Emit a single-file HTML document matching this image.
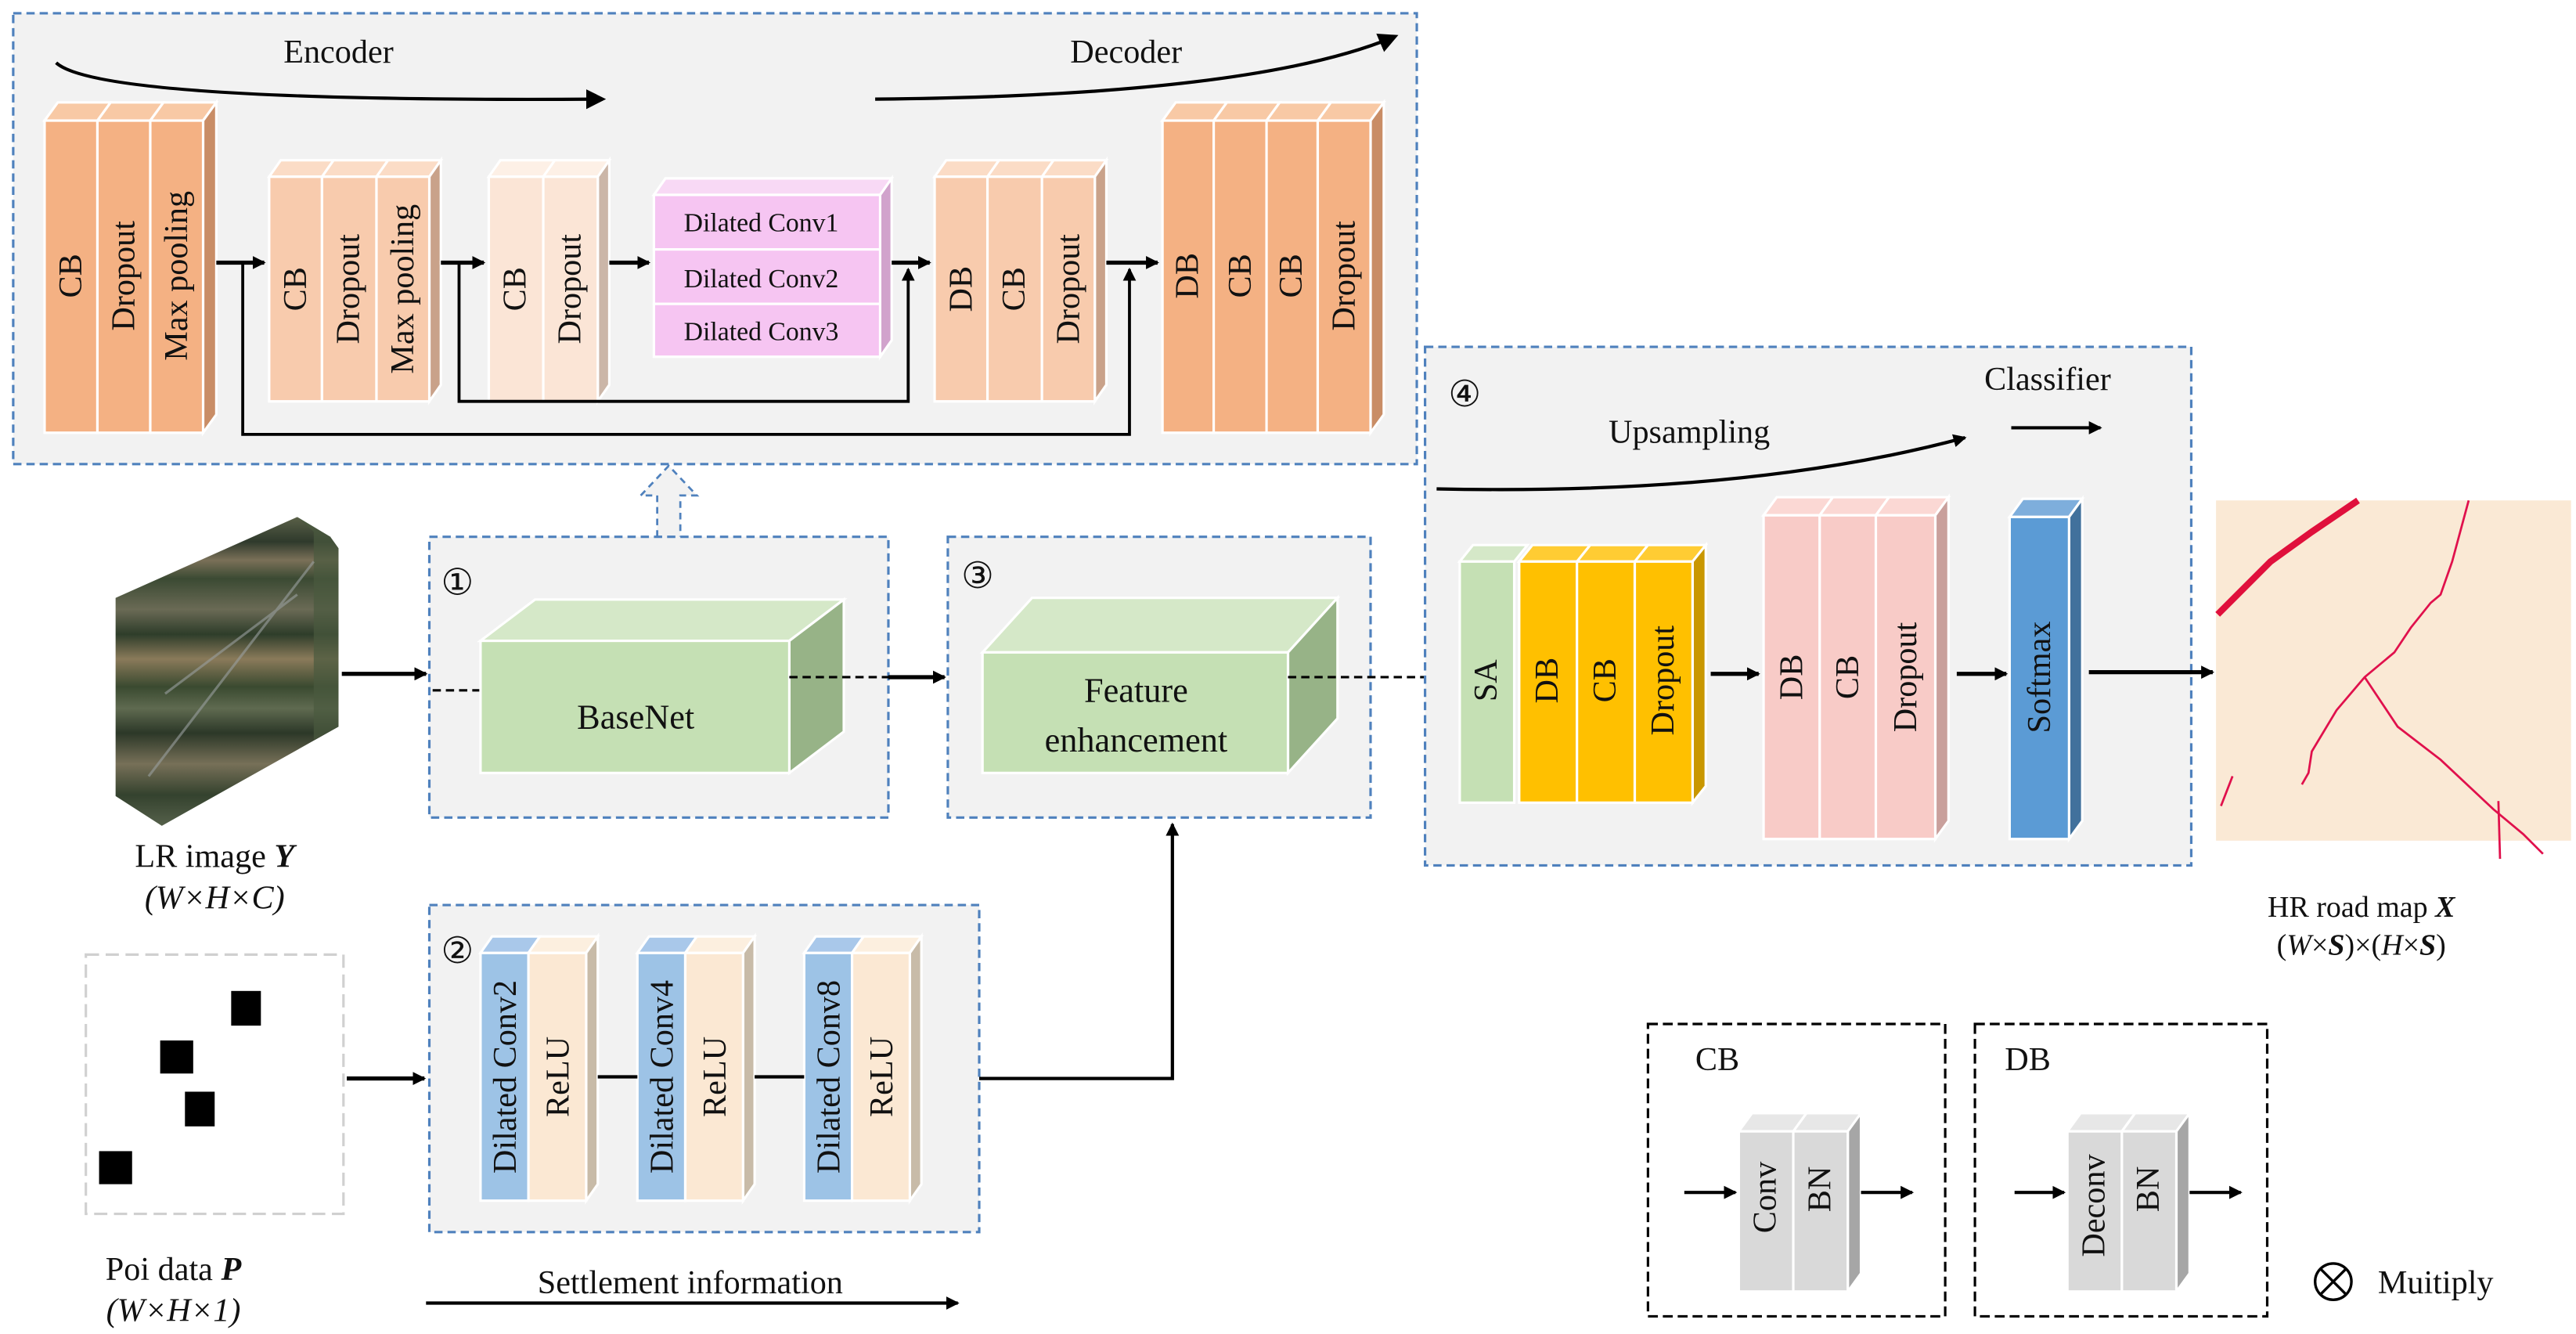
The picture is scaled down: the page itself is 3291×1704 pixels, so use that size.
<!DOCTYPE html>
<html><head><meta charset="utf-8"><style>html,body{margin:0;padding:0;background:#fff}svg{display:block}svg text{font-family:'Liberation Serif','DejaVu Serif',serif;fill:#111}</style></head><body>
<svg width="3291" height="1704" viewBox="0 0 1560 807.7" xmlns="http://www.w3.org/2000/svg" font-family="'Liberation Serif', 'DejaVu Serif', serif">
<defs>
<marker id="ah" markerWidth="8" markerHeight="8" refX="7" refY="4" orient="auto" markerUnits="userSpaceOnUse"><path d="M0,0 L8,4 L0,8 z" fill="#000"/></marker>
<marker id="ah2" markerWidth="12" markerHeight="12" refX="10" refY="6" orient="auto" markerUnits="userSpaceOnUse"><path d="M0,0 L12,6 L0,12 z" fill="#000"/></marker>
<linearGradient id="sat" x1="0" y1="0" x2="0" y2="1">
<stop offset="0" stop-color="#5a6048"/><stop offset="0.08" stop-color="#2f3a2c"/><stop offset="0.14" stop-color="#7a7058"/><stop offset="0.2" stop-color="#3b4a33"/><stop offset="0.3" stop-color="#6a6a55"/><stop offset="0.38" stop-color="#2e3d2a"/><stop offset="0.46" stop-color="#8a7a5a"/><stop offset="0.55" stop-color="#3a4a30"/><stop offset="0.62" stop-color="#5f6a50"/><stop offset="0.7" stop-color="#2c3828"/><stop offset="0.8" stop-color="#777058"/><stop offset="0.9" stop-color="#34422e"/><stop offset="1" stop-color="#55604a"/></linearGradient>
</defs>
<g font-size="20">
<rect x="8" y="8" width="850" height="273" fill="#f2f2f2" stroke="#4f81bd" stroke-width="1.5" stroke-dasharray="5,3"/>
<text x="205" y="38" text-anchor="middle">Encoder</text>
<text x="682" y="38" text-anchor="middle">Decoder</text>
<path d="M34,38 Q60,62 365,60" fill="none" stroke="#000" stroke-width="2" marker-end="url(#ah2)"/>
<path d="M530,60 Q760,58 845,22" fill="none" stroke="#000" stroke-width="2" marker-end="url(#ah2)"/>

<g stroke="#fff" stroke-width="1.5">
<polygon points="27,73 35,62 67,62 59,73" fill="#f8c9a5"/><polygon points="59,73 67,62 99,62 91,73" fill="#f8c9a5"/><polygon points="91,73 99,62 131,62 123,73" fill="#f8c9a5"/>
<polygon points="123,73 131,62 131,251 123,262" fill="#c98d66"/>
<rect x="27" y="73" width="32" height="189" fill="#f4b183"/><rect x="59" y="73" width="32" height="189" fill="#f4b183"/><rect x="91" y="73" width="32" height="189" fill="#f4b183"/>
</g>
<g stroke="#fff" stroke-width="1.5">
<polygon points="163,107 170,97 202,97 195,107" fill="#fbdcc6"/><polygon points="195,107 202,97 235,97 228,107" fill="#fbdcc6"/><polygon points="228,107 235,97 267,97 260,107" fill="#fbdcc6"/>
<polygon points="260,107 267,97 267,233 260,243" fill="#c9a28a"/>
<rect x="163" y="107" width="32" height="136" fill="#f8cbad"/><rect x="195" y="107" width="33" height="136" fill="#f8cbad"/><rect x="228" y="107" width="32" height="136" fill="#f8cbad"/>
</g>
<g stroke="#fff" stroke-width="1.5">
<polygon points="296,107 303,97 336,97 329,107" fill="#fdf0e6"/><polygon points="329,107 336,97 369,97 362,107" fill="#fdf0e6"/>
<polygon points="362,107 369,97 369,233 362,243" fill="#cbb6a8"/>
<rect x="296" y="107" width="33" height="136" fill="#fbe5d6"/><rect x="329" y="107" width="33" height="136" fill="#fbe5d6"/>
</g>
<g stroke="#fff" stroke-width="1.5">
<polygon points="396,118 403,108 540,108 533,118" fill="#f8d9f5"/>
<polygon points="533,118 540,108 540,206 533,216" fill="#d1a3cc"/>
<rect x="396" y="118" width="137" height="33" fill="#f6c5f2"/><rect x="396" y="151" width="137" height="33" fill="#f6c5f2"/><rect x="396" y="184" width="137" height="32" fill="#f6c5f2"/>
</g>
<g stroke="#fff" stroke-width="1.5">
<polygon points="566,107 573,97 605,97 598,107" fill="#fbdcc6"/><polygon points="598,107 605,97 638,97 631,107" fill="#fbdcc6"/><polygon points="631,107 638,97 670,97 663,107" fill="#fbdcc6"/>
<polygon points="663,107 670,97 670,233 663,243" fill="#c9a28a"/>
<rect x="566" y="107" width="32" height="136" fill="#f8cbad"/><rect x="598" y="107" width="33" height="136" fill="#f8cbad"/><rect x="631" y="107" width="32" height="136" fill="#f8cbad"/>
</g>
<g stroke="#fff" stroke-width="1.5">
<polygon points="704,73 712,62 743,62 735,73" fill="#f8c9a5"/><polygon points="735,73 743,62 775,62 767,73" fill="#f8c9a5"/><polygon points="767,73 775,62 806,62 798,73" fill="#f8c9a5"/><polygon points="798,73 806,62 838,62 830,73" fill="#f8c9a5"/>
<polygon points="830,73 838,62 838,251 830,262" fill="#c98d66"/>
<rect x="704" y="73" width="31" height="189" fill="#f4b183"/><rect x="735" y="73" width="32" height="189" fill="#f4b183"/><rect x="767" y="73" width="31" height="189" fill="#f4b183"/><rect x="798" y="73" width="32" height="189" fill="#f4b183"/>
</g>
<g text-anchor="middle" dominant-baseline="central">
<text transform="translate(43,167) rotate(-90)">CB</text>
<text transform="translate(75,167) rotate(-90)">Dropout</text>
<text transform="translate(107,167) rotate(-90)">Max pooling</text>
<text transform="translate(179,175) rotate(-90)">CB</text>
<text transform="translate(211,175) rotate(-90)">Dropout</text>
<text transform="translate(244,175) rotate(-90)">Max pooling</text>
<text transform="translate(312,175) rotate(-90)">CB</text>
<text transform="translate(345,175) rotate(-90)">Dropout</text>
<text transform="translate(582,175) rotate(-90)">DB</text>
<text transform="translate(614,175) rotate(-90)">CB</text>
<text transform="translate(647,175) rotate(-90)">Dropout</text>
<text transform="translate(719,167) rotate(-90)">DB</text>
<text transform="translate(751,167) rotate(-90)">CB</text>
<text transform="translate(782,167) rotate(-90)">CB</text>
<text transform="translate(814,167) rotate(-90)">Dropout</text>
</g>
<g font-size="16" text-anchor="middle"><text x="461" y="140">Dilated Conv1</text><text x="461" y="174">Dilated Conv2</text><text x="461" y="206">Dilated Conv3</text></g>
<g stroke="#000" stroke-width="2.5" fill="none">
<line x1="131" y1="159" x2="160" y2="159" marker-end="url(#ah)"/>
<line x1="267" y1="159" x2="293" y2="159" marker-end="url(#ah)"/>
<line x1="369" y1="159" x2="393" y2="159" marker-end="url(#ah)"/>
<line x1="540" y1="159" x2="563" y2="159" marker-end="url(#ah)"/>
<line x1="670" y1="159" x2="701" y2="159" marker-end="url(#ah)"/>
</g>
<g stroke="#000" stroke-width="1.8" fill="none">
<polyline points="147,159 147,263 684,263 684,163" marker-end="url(#ah)"/>
<polyline points="278,159 278,243 550,243 550,163" marker-end="url(#ah)"/>
</g>
<path d="M398,325 L398,300 L388,300 L405,282 L422,300 L412,300 L412,325" fill="#f2f2f2" stroke="#4f81bd" stroke-width="1.3" stroke-dasharray="4,3"/>

<polygon points="70,362 180,313 200,325 205,332 205,440 98,500 70,482" fill="url(#sat)"/>
<polygon points="180,313 200,325 205,332 205,440 190,448 190,322" fill="#4a5a3e" opacity="0.7"/>
<path d="M90,470 L190,340 M100,420 L180,360" stroke="#9aa0a0" stroke-width="1.5" opacity="0.6"/>
<text x="130" y="525" text-anchor="middle">LR image <tspan font-weight="bold" font-style="italic">Y</tspan></text>
<text x="130" y="550" text-anchor="middle" font-style="italic">(W×H×C)</text>
<line x1="207" y1="408" x2="258" y2="408" stroke="#000" stroke-width="2.5" marker-end="url(#ah)"/>

<rect x="260" y="325" width="278" height="170" fill="#f2f2f2" stroke="#4f81bd" stroke-width="1.5" stroke-dasharray="5,3"/>
<text x="277" y="360" text-anchor="middle" font-size="22">①</text>
<line x1="262" y1="418" x2="291" y2="418" stroke="#000" stroke-width="1.5" stroke-dasharray="5,3"/>
<g stroke="#fff" stroke-width="1.5">
<polygon points="291,388 324,363 511,363 478,388" fill="#d5e8c8"/>
<polygon points="478,388 511,363 511,443 478,468" fill="#97b387"/>
<rect x="291" y="388" width="187" height="80" fill="#c5e0b4"/>
</g>
<text x="385" y="441" text-anchor="middle" font-size="21">BaseNet</text>
<line x1="478" y1="410" x2="540" y2="410" stroke="#000" stroke-width="1.5" stroke-dasharray="5,3"/>
<line x1="538" y1="410" x2="572" y2="410" stroke="#000" stroke-width="2.5" marker-end="url(#ah)"/>

<rect x="574" y="325" width="256" height="170" fill="#f2f2f2" stroke="#4f81bd" stroke-width="1.5" stroke-dasharray="5,3"/>
<text x="592" y="356" text-anchor="middle" font-size="22">③</text>
<g stroke="#fff" stroke-width="1.5">
<polygon points="595,395 625,362 810,362 780,395" fill="#d5e8c8"/>
<polygon points="780,395 810,362 810,435 780,468" fill="#97b387"/>
<rect x="595" y="395" width="185" height="73" fill="#c5e0b4"/>
</g>
<text x="688" y="425" text-anchor="middle" font-size="21">Feature</text>
<text x="688" y="455" text-anchor="middle" font-size="21">enhancement</text>
<line x1="780" y1="410" x2="863" y2="410" stroke="#000" stroke-width="1.5" stroke-dasharray="5,3"/>

<rect x="863" y="210" width="464" height="314" fill="#f2f2f2" stroke="#4f81bd" stroke-width="1.5" stroke-dasharray="5,3"/>
<text x="887" y="246" text-anchor="middle" font-size="22">④</text>
<text x="1240" y="236" text-anchor="middle">Classifier</text>
<line x1="1218" y1="259" x2="1272" y2="259" stroke="#000" stroke-width="2" marker-end="url(#ah)"/>
<text x="1023" y="268" text-anchor="middle">Upsampling</text>
<path d="M870,296 Q1060,300 1190,265" fill="none" stroke="#000" stroke-width="2" marker-end="url(#ah)"/>
<g stroke="#fff" stroke-width="1.5">
<polygon points="884,340 892,330 925,330 917,340" fill="#d5e8c8"/>
<rect x="884" y="340" width="33" height="146" fill="#c5e0b4"/>
<polygon points="920,340 928,330 963,330 955,340" fill="#ffcc33"/><polygon points="955,340 963,330 998,330 990,340" fill="#ffcc33"/><polygon points="990,340 998,330 1033,330 1025,340" fill="#ffcc33"/>
<polygon points="1025,340 1033,330 1033,476 1025,486" fill="#c99700"/>
<rect x="920" y="340" width="35" height="146" fill="#ffc000"/><rect x="955" y="340" width="35" height="146" fill="#ffc000"/><rect x="990" y="340" width="35" height="146" fill="#ffc000"/>
</g>
<g stroke="#fff" stroke-width="1.5">
<polygon points="1068,312 1076,301 1110,301 1102,312" fill="#fbd8d4"/><polygon points="1102,312 1110,301 1144,301 1136,312" fill="#fbd8d4"/><polygon points="1136,312 1144,301 1180,301 1172,312" fill="#fbd8d4"/>
<polygon points="1172,312 1180,301 1180,497 1172,508" fill="#c9a09c"/>
<rect x="1068" y="312" width="34" height="196" fill="#f8cbc7"/><rect x="1102" y="312" width="34" height="196" fill="#f8cbc7"/><rect x="1136" y="312" width="36" height="196" fill="#f8cbc7"/>
</g>
<g stroke="#fff" stroke-width="1.5">
<polygon points="1217,313 1225,302 1261,302 1253,313" fill="#7eaedc"/>
<polygon points="1253,313 1261,302 1261,497 1253,508" fill="#41719c"/>
<rect x="1217" y="313" width="36" height="195" fill="#5b9bd5"/>
</g>
<g text-anchor="middle" dominant-baseline="central">
<text transform="translate(900,412) rotate(-90)">SA</text>
<text transform="translate(937,412) rotate(-90)">DB</text>
<text transform="translate(972,412) rotate(-90)">CB</text>
<text transform="translate(1007,412) rotate(-90)">Dropout</text>
<text transform="translate(1085,410) rotate(-90)">DB</text>
<text transform="translate(1119,410) rotate(-90)">CB</text>
<text transform="translate(1154,410) rotate(-90)">Dropout</text>
<text transform="translate(1235,410) rotate(-90)">Softmax</text>
</g>
<g stroke="#000" stroke-width="2.5">
<line x1="1036" y1="408" x2="1065" y2="408" marker-end="url(#ah)"/>
<line x1="1185" y1="408" x2="1215" y2="408" marker-end="url(#ah)"/>
<line x1="1265" y1="407" x2="1340" y2="407" marker-end="url(#ah)"/>
</g>

<rect x="1342" y="303" width="215" height="206" fill="#fae9d5"/>
<path d="M1343,372 L1375,340 L1400,322 L1428,303" stroke="#e0103c" stroke-width="4" fill="none"/>
<g stroke="#e0104c" stroke-width="1.3" fill="none">
<path d="M1495,303 L1485,340 L1478,360 L1472,365 L1460,380 L1450,395 L1432,410 L1415,430 L1400,455 L1398,468 L1394,475"/>
<path d="M1432,410 L1452,440 L1478,460 L1510,490 L1528,505 L1540,517"/>
<path d="M1513,485 L1514,520"/>
<path d="M1352,470 L1345,488"/>
</g>
<text x="1430" y="555" text-anchor="middle" font-size="18">HR road map <tspan font-weight="bold" font-style="italic">X</tspan></text>
<text x="1430" y="578" text-anchor="middle" font-size="18">(<tspan font-style="italic">W</tspan>×<tspan font-weight="bold" font-style="italic">S</tspan>)×(<tspan font-style="italic">H</tspan>×<tspan font-weight="bold" font-style="italic">S</tspan>)</text>

<rect x="52" y="578" width="156" height="157" fill="#fff" stroke="#d0d0d0" stroke-width="1.5" stroke-dasharray="8,4"/>
<rect x="140" y="600" width="18" height="21" fill="#000"/>
<rect x="97" y="630" width="20" height="20" fill="#000"/>
<rect x="112" y="661" width="18" height="21" fill="#000"/>
<rect x="60" y="697" width="20" height="20" fill="#000"/>
<line x1="210" y1="653" x2="257" y2="653" stroke="#000" stroke-width="2.5" marker-end="url(#ah)"/>
<text x="105" y="775" text-anchor="middle">Poi data <tspan font-weight="bold" font-style="italic">P</tspan></text>
<text x="105" y="800" text-anchor="middle" font-style="italic">(W×H×1)</text>
<text x="418" y="783" text-anchor="middle">Settlement information</text>
<line x1="258" y1="789" x2="580" y2="789" stroke="#000" stroke-width="2" marker-end="url(#ah)"/>

<rect x="260" y="548" width="333" height="198" fill="#f2f2f2" stroke="#4f81bd" stroke-width="1.5" stroke-dasharray="5,3"/>
<text x="277" y="583" text-anchor="middle" font-size="22">②</text>
<g stroke="#fff" stroke-width="1.5">
<polygon points="291,577 298,567 327,567 320,577" fill="#a9c8ea"/><polygon points="320,577 327,567 362,567 355,577" fill="#fcefdf"/>
<polygon points="355,577 362,567 362,717 355,727" fill="#c8bba8"/>
<rect x="291" y="577" width="29" height="150" fill="#9dc3e6"/><rect x="320" y="577" width="35" height="150" fill="#fbe8d3"/>
<polygon points="386,577 393,567 422,567 415,577" fill="#a9c8ea"/><polygon points="415,577 422,567 457,567 450,577" fill="#fcefdf"/>
<polygon points="450,577 457,567 457,717 450,727" fill="#c8bba8"/>
<rect x="386" y="577" width="29" height="150" fill="#9dc3e6"/><rect x="415" y="577" width="35" height="150" fill="#fbe8d3"/>
<polygon points="487,577 494,567 523,567 516,577" fill="#a9c8ea"/><polygon points="516,577 523,567 558,567 551,577" fill="#fcefdf"/>
<polygon points="551,577 558,567 558,717 551,727" fill="#c8bba8"/>
<rect x="487" y="577" width="29" height="150" fill="#9dc3e6"/><rect x="516" y="577" width="35" height="150" fill="#fbe8d3"/>
</g>
<g text-anchor="middle" dominant-baseline="central">
<text transform="translate(306,652) rotate(-90)">Dilated Conv2</text>
<text transform="translate(338,652) rotate(-90)">ReLU</text>
<text transform="translate(401,652) rotate(-90)">Dilated Conv4</text>
<text transform="translate(433,652) rotate(-90)">ReLU</text>
<text transform="translate(502,652) rotate(-90)">Dilated Conv8</text>
<text transform="translate(534,652) rotate(-90)">ReLU</text>
</g>
<g stroke="#000" stroke-width="2"><line x1="362" y1="652" x2="386" y2="652"/><line x1="457" y1="652" x2="487" y2="652"/></g>
<polyline points="593,653 710,653 710,499" fill="none" stroke="#000" stroke-width="2" marker-end="url(#ah)"/>

<rect x="998" y="620" width="180" height="177" fill="#fff" stroke="#000" stroke-width="1.5" stroke-dasharray="6,3"/>
<text x="1040" y="648" text-anchor="middle">CB</text>
<g stroke="#fff" stroke-width="1.5">
<polygon points="1053,685 1061,674 1094,674 1086,685" fill="#e7e7e7"/><polygon points="1086,685 1094,674 1127,674 1119,685" fill="#e7e7e7"/>
<polygon points="1119,685 1127,674 1127,771 1119,782" fill="#a6a6a6"/>
<rect x="1053" y="685" width="33" height="97" fill="#d9d9d9"/><rect x="1086" y="685" width="33" height="97" fill="#d9d9d9"/>
</g>
<rect x="1196" y="620" width="177" height="177" fill="#fff" stroke="#000" stroke-width="1.5" stroke-dasharray="6,3"/>
<text x="1228" y="648" text-anchor="middle">DB</text>
<g stroke="#fff" stroke-width="1.5">
<polygon points="1252,685 1260,674 1293,674 1285,685" fill="#e7e7e7"/><polygon points="1285,685 1293,674 1326,674 1318,685" fill="#e7e7e7"/>
<polygon points="1318,685 1326,674 1326,771 1318,782" fill="#a6a6a6"/>
<rect x="1252" y="685" width="33" height="97" fill="#d9d9d9"/><rect x="1285" y="685" width="33" height="97" fill="#d9d9d9"/>
</g>
<g text-anchor="middle" dominant-baseline="central">
<text transform="translate(1069,725) rotate(-90)">Conv</text>
<text transform="translate(1102,720) rotate(-90)">BN</text>
<text transform="translate(1268,730) rotate(-90)">Deconv</text>
<text transform="translate(1301,720) rotate(-90)">BN</text>
</g>
<g stroke="#000" stroke-width="2">
<line x1="1020" y1="722" x2="1051" y2="722" marker-end="url(#ah)"/>
<line x1="1127" y1="722" x2="1158" y2="722" marker-end="url(#ah)"/>
<line x1="1220" y1="722" x2="1250" y2="722" marker-end="url(#ah)"/>
<line x1="1326" y1="722" x2="1357" y2="722" marker-end="url(#ah)"/>
</g>
<circle cx="1413" cy="776" r="11" fill="none" stroke="#000" stroke-width="1.6"/>
<path d="M1405,768 L1421,784 M1421,768 L1405,784" stroke="#000" stroke-width="1.6"/>
<text x="1440" y="783">Muitiply</text>
</g>
</svg>
</body></html>
